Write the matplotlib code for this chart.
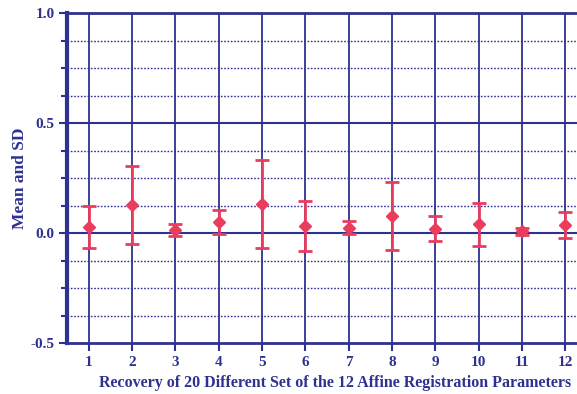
import matplotlib.pyplot as plt
from matplotlib.ticker import MultipleLocator, FormatStrFormatter

params = [1, 2, 3, 4, 5, 6, 7, 8, 9, 10, 11, 12]
means = [0.028, 0.127, 0.015, 0.052, 0.132, 0.032, 0.024, 0.077, 0.020, 0.040, 0.009, 0.037]
sds = [0.097, 0.178, 0.027, 0.055, 0.199, 0.113, 0.030, 0.154, 0.056, 0.098, 0.016, 0.058]

navy = '#2E3190'
red = '#EA3D5E'

plt.rcParams['font.family'] = ['Liberation Serif', 'DejaVu Serif']
fig = plt.figure(figsize=(5.77, 3.94), dpi=100)
ax = fig.add_axes([0.116, 0.129, 0.884, 0.838])

ax.set_xlim(0.5, 12.27)
ax.set_ylim(-0.5, 1.0)

ax.yaxis.set_major_locator(MultipleLocator(0.5))
ax.yaxis.set_minor_locator(MultipleLocator(0.125))
ax.yaxis.set_major_formatter(FormatStrFormatter('%.1f'))
ax.set_xticks(params)

for x in params:
    ax.axvline(x, color=navy, lw=1.3, zorder=1)
ax.grid(which='minor', axis='y', color=navy, ls=(0, (1.2, 1.2)), lw=1.0, zorder=1)
for y in [0.0, 0.5]:
    ax.axhline(y, color=navy, lw=1.5, zorder=1)

ax.errorbar(params, means, yerr=sds, fmt='D', color=red, ecolor=red,
            markersize=6, elinewidth=2, capsize=5, capthick=2, zorder=3)

for s in ['bottom', 'top']:
    ax.spines[s].set_color(navy)
    ax.spines[s].set_linewidth(2)
ax.spines['left'].set_color(navy)
ax.spines['left'].set_linewidth(3)
ax.spines['right'].set_visible(False)

ax.tick_params(axis='both', which='major', colors=navy, width=1.5, length=6, labelsize=11, pad=3)
ax.tick_params(axis='y', which='minor', colors=navy, width=1.5, length=4)
for lbl in ax.get_xticklabels() + ax.get_yticklabels():
    lbl.set_fontweight('bold')

fig.text(335 / 577, 1 - 383 / 394,
         'Recovery of 20 Different Set of the 12 Affine Registration Parameters',
         color=navy, fontsize=11.5, fontweight='bold', ha='center', va='center')
fig.text(20 / 577, 1 - 178 / 394, 'Mean and SD', rotation=90,
         color=navy, fontsize=12.5, fontweight='bold', ha='center', va='center')

fig.savefig('out.png', dpi=100)
